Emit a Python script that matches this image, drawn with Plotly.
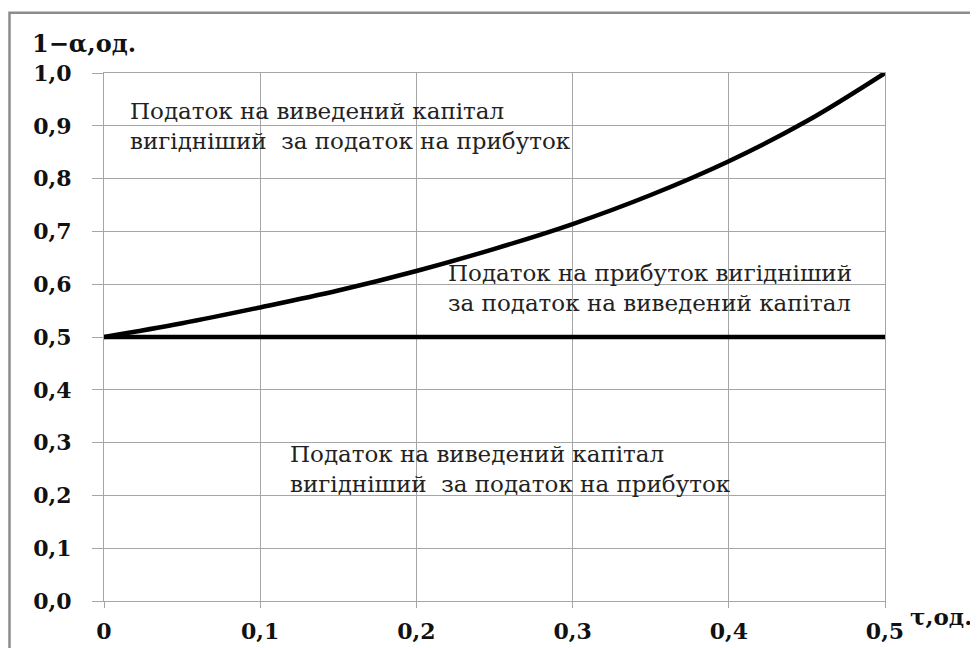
import plotly.graph_objects as go

# Data
tau = [0.0, 0.05, 0.1, 0.15, 0.2, 0.25, 0.3, 0.35, 0.4, 0.45, 0.5]
curve = [0.5, 0.526, 0.556, 0.588, 0.625, 0.667, 0.714, 0.769, 0.833, 0.909, 1.0]
flat_x = [0.0, 0.5]
flat_y = [0.5, 0.5]

x_ticks = [0, 0.1, 0.2, 0.3, 0.4, 0.5]
x_labels = ["0", "0,1", "0,2", "0,3", "0,4", "0,5"]
y_ticks = [0.0, 0.1, 0.2, 0.3, 0.4, 0.5, 0.6, 0.7, 0.8, 0.9, 1.0]
y_labels = ["0,0", "0,1", "0,2", "0,3", "0,4", "0,5", "0,6", "0,7", "0,8", "0,9", "1,0"]

# region notes with their anchor (tau, 1-alpha)
notes = [
    ("Податок на виведений капітал<br>вигідніший  за податок на прибуток", 0.0154, 0.9005),
    ("Податок на прибуток вигідніший<br>за податок на виведений капітал", 0.219, 0.5935),
    ("Податок на виведений капітал<br>вигідніший  за податок на прибуток", 0.118, 0.25),
]

serif = "DejaVu Serif"
grid = "#a6a6a6"

fig = go.Figure()
fig.add_trace(go.Scatter(x=tau, y=curve, mode="lines", line=dict(color="black", width=4.5, shape="spline"),
                         showlegend=False, hoverinfo="skip"))
fig.add_trace(go.Scatter(x=flat_x, y=flat_y, mode="lines", line=dict(color="black", width=4.5),
                         showlegend=False, hoverinfo="skip"))

for text, x, y in notes:
    fig.add_annotation(x=x, y=y, xref="x", yref="y", text=text, showarrow=False,
                       xanchor="left", yanchor="middle", align="left",
                       font=dict(family=serif, size=23, color="#222222"))

fig.add_annotation(x=-0.0947, y=1.056, xref="paper", yref="paper", text="<b>1−α,од.</b>", showarrow=False,
                   xanchor="left", yanchor="middle", font=dict(family=serif, size=24, color="#111111"))
fig.add_annotation(x=1.03, y=-0.03, xref="paper", yref="paper", text="<b>τ,од.</b>", showarrow=False,
                   xanchor="left", yanchor="middle", font=dict(family=serif, size=23, color="#111111"))

fig.add_shape(type="rect", xref="paper", yref="paper", x0=-0.121, x1=1.2, y0=-0.2, y1=1.114,
              line=dict(color="#8c8c8c", width=2.5), fillcolor="rgba(0,0,0,0)", layer="below")

fig.update_xaxes(range=[0, 0.5], tickvals=x_ticks, ticktext=["<b>%s</b>" % t for t in x_labels],
                 showgrid=True, gridcolor=grid, gridwidth=1, showline=True, linecolor=grid, linewidth=1,
                 mirror=True, ticks="outside", ticklen=6, tickcolor=grid, zeroline=False,
                 ticklabelstandoff=5,
                 tickfont=dict(family=serif, size=22, color="#111111"), fixedrange=True)
fig.update_yaxes(range=[0, 1.0], tickvals=y_ticks, ticktext=["<b>%s</b>" % t for t in y_labels],
                 showgrid=True, gridcolor=grid, gridwidth=1, showline=True, linecolor=grid, linewidth=1,
                 mirror=True, ticks="outside", ticklen=11, tickcolor=grid, zeroline=False,
                 ticklabelstandoff=16,
                 tickfont=dict(family=serif, size=22, color="#111111"), fixedrange=True)

fig.update_layout(width=978, height=648, margin=dict(l=96, r=101, t=65, b=43),
                  paper_bgcolor="white", plot_bgcolor="white")

fig.write_html("out.html", config={"displayModeBar": False})
